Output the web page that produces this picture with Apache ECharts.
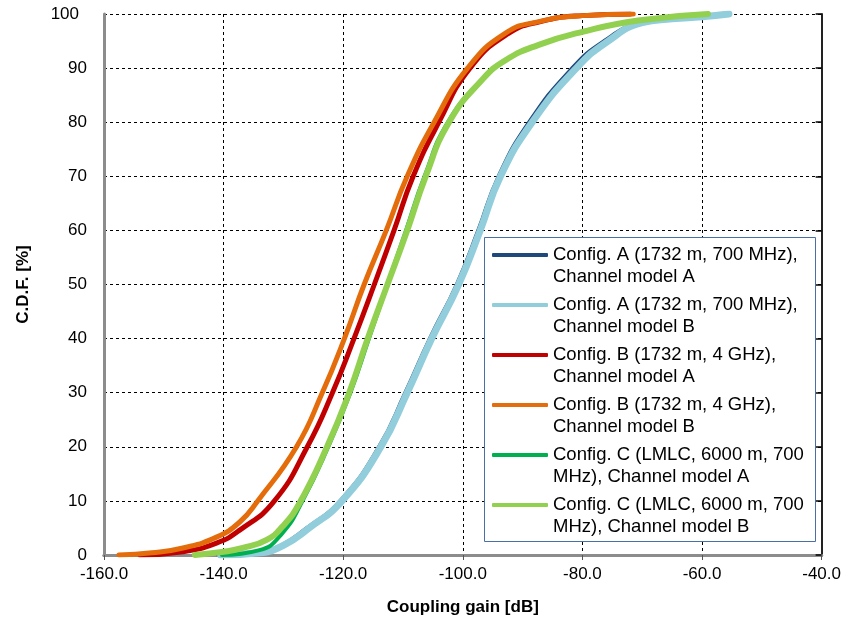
<!DOCTYPE html>
<html><head><meta charset="utf-8">
<script src="https://cdn.jsdelivr.net/npm/echarts@6/dist/echarts.min.js"></script>
<style>html,body{margin:0;padding:0;background:#fff}#c{width:844px;height:624px}</style>
</head><body><div id="c"></div>
<script>
// Config. A, Channel model A (dark blue)
const xAA = [-141, -134.5, -130.5, -126.2, -120.6, -114.1, -109.7, -105.6, -101.1, -97.5, -94.1, -89, -81.8, -76.5, -70.5, -65.5, -61, -56.5];
const yAA = [0, 0.4, 1.8, 5, 10, 20, 30, 40, 50, 60, 70, 80, 90, 95, 98.4, 99.1, 99.5, 100];
// Config. A, Channel model B (light blue)
const xAB = [-140.5, -134, -130, -125.7, -120.2, -113.7, -109.3, -105.2, -100.7, -97.1, -93.7, -88.4, -81, -75.7, -70, -65, -60, -55.5];
const yAB = [0, 0.4, 1.8, 5, 10, 20, 30, 40, 50, 60, 70, 80, 90, 95, 98.4, 99.1, 99.5, 100];
// Config. B, Channel model A (red)
const xBA = [-154, -146.8, -141.2, -137.3, -131.5, -126, -121.8, -118.2, -114.8, -111.5, -108.3, -104, -98.8, -92.5, -87, -80, -72];
const yBA = [0, 0.6, 2.2, 4.6, 10, 20, 30, 40, 50, 60, 70, 80, 90, 96.3, 98.6, 99.7, 100];
// Config. B, Channel model B (orange)
const xBB = [-157.5, -152, -146.8, -141.2, -137.3, -134.3, -127.8, -123.5, -119.8, -116.5, -112.8, -109.3, -104.8, -99.2, -92.8, -87.3, -80, -71.5];
const yBB = [0, 0.4, 1.3, 3.3, 6.1, 10, 20, 30, 40, 50, 60, 70, 80, 90, 96.5, 98.6, 99.7, 100];
// Config. C, Channel model A (green)
const xCA = [-140.3, -134, -130.2, -126.8, -122.5, -118.8, -115.7, -112.6, -109.5, -106.4, -102.5, -96.8, -92.8, -87.3, -80, -70.7, -59];
const yCA = [0, 0.9, 4, 10, 20, 30, 40, 50, 60, 70, 80, 87.8, 91.5, 94.3, 96.7, 98.8, 100];
// Config. C, Channel model B (light green)
const xCB = [-144.8, -140, -136.8, -132.8, -130.2, -127.3, -122.7, -119, -115.9, -112.6, -109.3, -106.2, -102.3, -96.8, -92.8, -87.3, -80, -70.7, -59];
const yCB = [0, 0.6, 1.3, 2.8, 5.2, 9.6, 20, 30, 40, 50, 60, 70, 80, 87.8, 91.5, 94.3, 96.7, 98.8, 100];

const names = [
  'Config. A (1732 m, 700 MHz),\nChannel model A',
  'Config. A (1732 m, 700 MHz),\nChannel model B',
  'Config. B (1732 m, 4 GHz),\nChannel model A',
  'Config. B (1732 m, 4 GHz),\nChannel model B',
  'Config. C (LMLC, 6000 m, 700\nMHz), Channel model A',
  'Config. C (LMLC, 6000 m, 700\nMHz), Channel model B'
];
const colors = ['#1f497d', '#92cddc', '#c00000', '#e46c0a', '#00b050', '#92d050'];
const widths = [3, 7, 5, 5, 4, 6];
const xs = [xAA, xAB, xBA, xBB, xCA, xCB];
const ys = [yAA, yAB, yBA, yBB, yCA, yCB];

const FONT = '"Liberation Sans", Arial, sans-serif';
const LH = 21.5;

const series = names.map((n, i) => ({
  name: n, type: 'line', showSymbol: false, symbol: 'none', smooth: 0.5,
  data: xs[i].map((x, j) => [x, ys[i][j]]),
  lineStyle: { color: colors[i], width: widths[i], cap: 'round', join: 'round' },
  itemStyle: { color: colors[i] },
  z: 2 + i * 0.01
}));

const chart = echarts.init(document.getElementById('c'), null, { renderer: 'canvas' });
chart.setOption({
  animation: false,
  backgroundColor: '#fff',
  grid: { left: 104, right: 20, top: 14, bottom: 69, containLabel: false },
  xAxis: [{
    type: 'value', min: -160, max: -40, interval: 20, position: 'bottom',
    name: 'Coupling gain [dB]', nameLocation: 'middle', nameGap: 44,
    nameTextStyle: { fontFamily: FONT, fontSize: 17, fontWeight: 'bold', color: '#000' },
    axisLine: { lineStyle: { color: '#8c8c8c', width: 3 } },
    axisTick: { show: true, length: 5, lineStyle: { color: '#555', width: 1 } },
    axisLabel: { fontFamily: FONT, fontSize: 17, color: '#000', margin: 11, formatter: v => v.toFixed(1) },
    splitLine: { show: true, lineStyle: { color: '#000', type: [3, 3], width: 1 } }
  }, {
    type: 'value', min: -160, max: -40, interval: 20, position: 'top',
    axisLine: { show: true, lineStyle: { color: '#8c8c8c', width: 3 } },
    axisTick: { show: false }, axisLabel: { show: false }, splitLine: { show: false }
  }],
  yAxis: [{
    type: 'value', min: 0, max: 100, interval: 10, position: 'left',
    name: 'C.D.F. [%]', nameLocation: 'middle', nameGap: 72,
    nameTextStyle: { fontFamily: FONT, fontSize: 17, fontWeight: 'bold', color: '#000' },
    axisLine: { show: true, lineStyle: { color: '#8c8c8c', width: 3 } },
    axisTick: { show: false },
    axisLabel: {
      fontFamily: FONT, fontSize: 17, color: '#000', margin: 17,
      formatter: v => v === 100 ? '{o|100}' : String(v),
      rich: { o: { fontFamily: FONT, fontSize: 17, color: '#000', padding: [0, 8, 0, 0] } }
    },
    splitLine: { show: true, lineStyle: { color: '#000', type: [3, 3], width: 1 } }
  }, {
    type: 'value', min: 0, max: 100, interval: 10, position: 'right',
    axisLine: { show: true, lineStyle: { color: '#222', width: 2 } },
    axisTick: { show: true, inside: true, length: 6, lineStyle: { color: '#000', width: 1.5 } },
    axisLabel: { show: false }, splitLine: { show: false }
  }],
  graphic: [{
    type: 'rect', left: 484, top: 237, z: 3,
    shape: { width: 331, height: 304 },
    style: { fill: '#fff', stroke: '#4a6fa5', lineWidth: 1 }
  }],
  legend: {
    orient: 'vertical', left: 492, top: 255 - 1.5 * LH, z: 5,
    padding: 0, itemGap: 50 - 3 * LH, itemWidth: 56, itemHeight: 4,
    icon: 'roundRect',
    formatter: name => '\n' + name,
    textStyle: { fontFamily: FONT, fontSize: 18.5, color: '#000', lineHeight: LH },
    data: names
  },
  series: series
});
</script></body></html>
